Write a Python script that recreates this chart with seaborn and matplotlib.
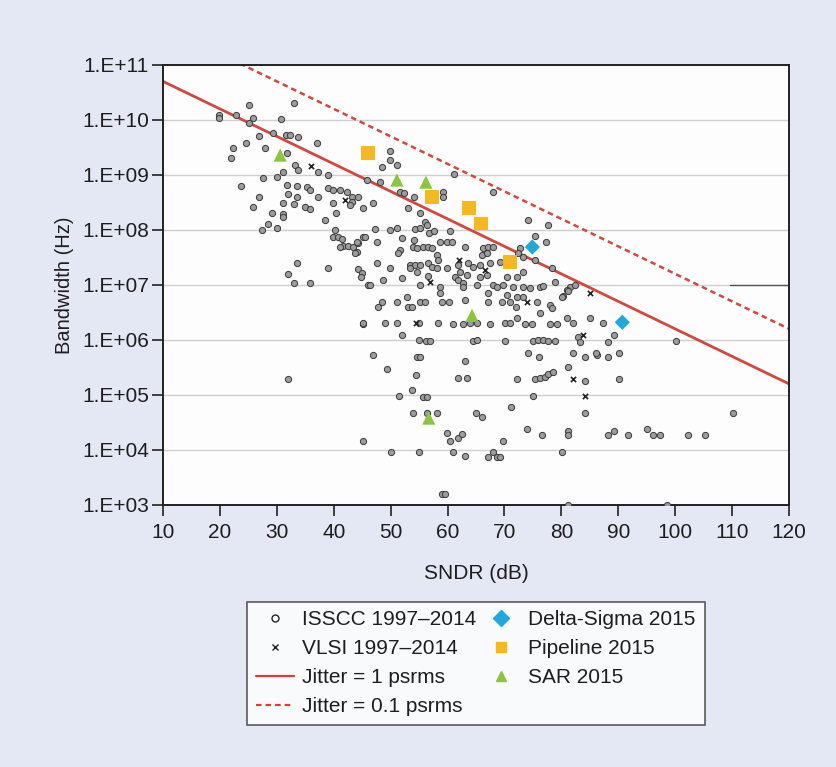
import numpy as np
import pandas as pd
import matplotlib
matplotlib.use("Agg")
import matplotlib.pyplot as plt
import seaborn as sns
from matplotlib.lines import Line2D

# ---------------- data ----------------
isscc_sndr = [
    19.8, 19.8, 22.8, 25.1, 25.8, 25.1, 33.0, 30.7, 26.9, 29.3, 31.6, 32.3, 33.7, 37.1, 24.6, 22.3,
    27.9, 21.9, 31.8, 33.2, 33.7, 31.1, 30.0, 27.6, 23.7, 37.2, 39.0, 31.8, 33.5, 35.3, 35.8, 33.5,
    32.0, 26.9, 37.2, 39.0, 39.8, 41.1, 42.3, 43.2, 44.3, 39.8, 25.8, 31.1, 33.0, 35.0, 35.8, 29.2,
    31.1, 31.1, 40.4, 38.5, 28.5, 27.4, 30.0, 40.2, 39.8, 40.7, 41.4, 41.6, 42.5, 43.4, 44.1, 44.3,
    45.1, 33.5, 39.0, 32.0, 33.0, 35.8, 44.3, 45.0, 44.8, 46.0, 45.1, 32.0, 45.1,
    49.9, 49.9, 51.1, 48.5, 45.9, 48.2, 51.6, 52.4, 54.1, 59.2, 59.2, 53.1, 55.2, 61.1, 43.2, 42.8,
    45.1, 46.9, 56.0, 56.4, 47.3, 49.9, 51.1, 54.3, 55.2, 56.7, 57.6, 60.4, 44.1, 45.5, 47.6, 41.1,
    43.7, 52.0, 54.1, 53.9, 54.6, 55.7, 56.6, 57.3, 51.6, 51.3, 58.7, 59.9, 60.8, 58.1, 58.3, 63.1,
    47.6, 49.9, 53.4, 54.3, 55.2, 53.4, 54.6, 56.6, 57.3, 58.1, 59.9, 61.8, 62.2, 61.3, 61.8, 62.7,
    46.4, 48.7, 52.0, 55.2, 56.6, 58.7, 58.7, 52.9,
    68.0, 74.1, 77.7, 75.4, 77.3, 72.7, 72.4, 73.3, 66.2, 67.1, 68.0, 66.0, 66.9, 63.6, 64.5, 65.7,
    67.5, 69.2, 73.3, 75.4, 78.4, 63.4, 65.7, 66.9, 70.5, 72.2, 68.0, 68.7, 69.8, 71.5, 73.3,
    74.5, 76.3, 76.8, 78.9, 81.5, 82.4, 81.0, 62.7, 65.2, 67.1, 80.3, 70.5, 72.2, 73.3,
    48.5, 47.8, 51.1, 53.1, 53.8, 55.2, 56.0, 59.0, 60.3, 63.1, 45.1, 49.0, 51.1, 55.0, 58.3, 61.0,
    62.7, 64.0, 65.2, 52.0, 55.0, 56.2, 56.9, 46.9, 54.6, 55.2, 63.1, 49.4, 54.5, 61.8, 63.4, 53.8,
    51.5, 55.7, 56.4, 53.9, 56.4, 58.1, 59.9, 60.4, 61.8, 62.5, 50.1, 55.0, 61.0, 63.1, 59.0, 59.6,
    65.0, 66.1, 67.1, 68.0, 68.7, 69.2, 69.8, 71.2, 74.0, 76.6, 75.0, 80.1, 81.2, 81.2, 64.5, 70.1,
    72.2, 75.4, 76.3, 77.1, 77.7, 78.5, 81.2, 74.1, 76.1, 75.0, 75.9, 76.8, 77.7, 78.9, 82.9, 83.3,
    82.0, 67.1, 69.6, 71.0, 72.0, 75.7, 78.0, 78.4, 80.1, 76.3, 81.0, 82.0, 85.0, 72.2, 67.5, 70.1,
    71.0, 73.6, 74.9, 78.0, 79.2, 65.2, 86.3, 84.2, 84.2, 84.2, 81.2, 87.3, 89.3, 88.2, 100.2,
    86.1, 88.2, 90.1, 90.1, 110.2, 88.2, 89.3, 91.7, 95.1, 96.1, 97.3, 102.2, 105.2, 81.2, 98.6,
]
isscc_log_bw = [
    10.09, 10.04, 10.09, 10.27, 10.04, 9.95, 10.31, 10.02, 9.71, 9.76, 9.73, 9.73, 9.69, 9.58, 9.58, 9.49,
    9.49, 9.31, 9.40, 9.18, 9.09, 9.05, 8.96, 8.95, 8.80, 9.05, 9.00, 8.82, 8.80, 8.78, 8.73, 8.60,
    8.65, 8.60, 8.60, 8.76, 8.73, 8.73, 8.69, 8.60, 8.60, 8.49, 8.42, 8.49, 8.47, 8.42, 8.38, 8.31,
    8.29, 8.24, 8.31, 8.18, 8.11, 8.00, 8.04, 8.00, 7.87, 7.87, 7.84, 7.71, 7.71, 7.69, 7.60, 7.76,
    7.87, 7.40, 7.31, 7.20, 7.04, 7.04, 7.29, 7.22, 7.15, 7.00, 6.29, 5.29, 4.16,
    9.44, 9.27, 9.18, 9.15, 8.91, 8.87, 8.69, 8.67, 8.60, 8.69, 8.60, 8.40, 8.31, 9.02, 8.51, 8.45,
    8.40, 8.49, 8.15, 8.09, 8.02, 8.00, 8.04, 8.02, 8.04, 7.95, 7.98, 7.98, 7.78, 7.87, 7.78, 7.69,
    7.58, 7.85, 7.82, 7.69, 7.67, 7.69, 7.69, 7.67, 7.64, 7.58, 7.78, 7.78, 7.78, 7.55, 7.45, 7.69,
    7.40, 7.31, 7.36, 7.36, 7.36, 7.31, 7.24, 7.40, 7.33, 7.31, 7.31, 7.36, 7.24, 7.15, 7.09, 7.04,
    7.00, 7.09, 7.13, 7.00, 7.16, 6.96, 6.85, 6.78,
    8.69, 8.18, 8.09, 7.89, 7.78, 7.67, 7.58, 7.51, 7.67, 7.69, 7.69, 7.55, 7.58, 7.40, 7.33, 7.36,
    7.40, 7.42, 7.24, 7.45, 7.31, 7.18, 7.15, 7.18, 7.15, 7.15, 7.00, 6.96, 7.00, 6.96, 6.96,
    6.95, 6.96, 6.98, 7.05, 6.96, 7.00, 6.91, 6.96, 7.00, 6.85, 6.80, 6.82, 6.78, 6.78,
    6.69, 6.60, 6.69, 6.60, 6.60, 6.69, 6.69, 6.69, 6.69, 6.73, 6.31, 6.31, 6.31, 6.31, 6.31, 6.29,
    6.29, 6.31, 6.31, 6.09, 6.00, 5.98, 5.98, 5.73, 5.69, 5.69, 5.62, 5.47, 5.36, 5.31, 5.31, 5.09,
    4.98, 4.96, 4.96, 4.67, 4.67, 4.67, 4.31, 4.16, 4.22, 4.29, 3.96, 3.96, 3.96, 3.89, 3.20, 3.20,
    4.67, 4.60, 3.87, 3.96, 3.87, 3.87, 4.16, 4.78, 4.38, 4.27, 4.98, 3.96, 4.35, 4.27, 5.98, 5.98,
    5.29, 5.29, 5.31, 5.33, 5.38, 5.42, 5.51, 5.76, 5.69, 5.98, 6.00, 6.00, 5.98, 5.98, 6.05, 5.96,
    5.76, 6.69, 6.69, 6.69, 6.60, 6.69, 6.64, 6.58, 6.78, 6.49, 6.40, 6.31, 6.40, 6.40, 6.29, 6.31,
    6.31, 6.29, 6.29, 6.29, 6.29, 6.00, 5.73, 5.69, 5.25, 4.67, 6.89, 6.31, 6.09, 5.96, 5.98,
    5.76, 5.69, 5.76, 5.29, 4.67, 4.27, 4.35, 4.27, 4.38, 4.27, 4.27, 4.27, 4.27, 3.00, 3.00,
]
vlsi_sndr = [74.0, 82.0, 84.2, 83.8, 54.5, 62.0, 66.5, 36.0, 42.0, 57.0, 85.0, 71.0]
vlsi_log_bw = [6.69, 5.29, 4.98, 6.09, 6.31, 7.45, 7.27, 9.17, 8.55, 7.05, 6.85, 7.40]

ds_sndr = [74.9, 90.7]
ds_bw = [4.9e7, 2.1e6]
pipe_sndr = [46.0, 57.3, 63.8, 65.9, 71.0]
pipe_bw = [2.5e9, 4.0e8, 2.5e8, 1.3e8, 2.6e7]
sar_sndr = [30.6, 51.1, 56.2, 64.3, 56.7]
sar_bw = [2.3e9, 8.1e8, 7.4e8, 2.8e6, 3.8e4]

jitter_values = [1e-12, 1e-13]          # 1 ps rms, 0.1 ps rms
sndr_range = [10, 120]

y_ticks = [1e3, 1e4, 1e5, 1e6, 1e7, 1e8, 1e9, 1e10, 1e11]
y_tick_labels = ["1.E+03", "1.E+04", "1.E+05", "1.E+06", "1.E+07", "1.E+08", "1.E+09", "1.E+10", "1.E+11"]
x_ticks = [10, 20, 30, 40, 50, 60, 70, 80, 90, 100, 110, 120]

# ---------------- figure ----------------
sns.set_style("white")
plt.rcParams['font.family'] = ['Liberation Sans', 'DejaVu Sans']

bg = "#e3e8f4"
txt = "#1e1e1e"
fig = plt.figure(figsize=(8.37, 7.67), dpi=100, facecolor=bg)
ax = fig.add_axes([0.1947, 0.3416, 0.748, 0.5737])
ax.set_facecolor("#fdfdfd")

ax.set_yscale("log")
ax.set_xlim(10, 120)
ax.set_ylim(1e3, 1e11)

for t in y_ticks[1:-1]:
    ax.axhline(t, color="#cfcfcf", lw=1.0, zorder=0)
ax.axhline(1e7, xmin=0.905, xmax=1.0, color="#555555", lw=1.0, zorder=0.5)

red = "#d2473f"
xx = np.linspace(sndr_range[0], sndr_range[1], 200)
jit_df = pd.DataFrame({
    "sndr": np.concatenate([xx, xx]),
    "bw": np.concatenate([1.0 / (2 * np.pi * jitter_values[0] * 10 ** (xx / 20)),
                          1.0 / (2 * np.pi * jitter_values[1] * 10 ** (xx / 20))]),
    "jit": ["1"] * len(xx) + ["0.1"] * len(xx),
})
sns.lineplot(data=jit_df[jit_df.jit == "1"], x="sndr", y="bw", color=red, lw=2.0, ax=ax, zorder=2)
sns.lineplot(data=jit_df[jit_df.jit == "0.1"], x="sndr", y="bw", color=red, lw=1.8, ax=ax,
             zorder=2, linestyle=(0, (2.2, 1.6)))

sns.scatterplot(x=isscc_sndr, y=10 ** np.array(isscc_log_bw), marker="o", s=20,
                color="#9c9c9c", edgecolor="#3a3a3a", linewidth=0.7, ax=ax, zorder=3)
sns.scatterplot(x=vlsi_sndr, y=10 ** np.array(vlsi_log_bw), marker="x", s=14,
                color="#222222", linewidth=1.2, ax=ax, zorder=3)

sns.scatterplot(x=pipe_sndr, y=pipe_bw, marker="s", s=95, color="#f5b823", edgecolor="none", ax=ax, zorder=4)
sns.scatterplot(x=sar_sndr, y=sar_bw, marker="^", s=90, color="#8cc641", edgecolor="none", ax=ax, zorder=4)
sns.scatterplot(x=ds_sndr, y=ds_bw, marker="D", s=60, color="#1fa8d8", edgecolor="none", ax=ax, zorder=4)

ax.set_yticks(y_ticks)
ax.set_yticklabels(y_tick_labels)
ax.yaxis.set_minor_locator(matplotlib.ticker.NullLocator())
ax.set_xticks(x_ticks)
ax.set_xticklabels([str(v) for v in x_ticks])
ax.tick_params(axis="both", direction="out", length=8, width=1.2, color="#222222",
               labelsize=15, labelcolor=txt, bottom=True, left=True)
ax.tick_params(axis="x", pad=5)
ax.tick_params(axis="y", pad=2)
for sp in ax.spines.values():
    sp.set_color("#222222")
    sp.set_linewidth(1.4)

ax.set_xlabel("SNDR (dB)", fontsize=15, color=txt, labelpad=16)
ax.set_ylabel("Bandwidth (Hz)", fontsize=14.5, color=txt, labelpad=6)

handles = [
    Line2D([], [], marker="o", ls="none", markersize=5, markerfacecolor="white",
           markeredgecolor="#222222", markeredgewidth=1.0),
    Line2D([], [], marker="x", ls="none", markersize=5, color="#222222", markeredgewidth=1.0),
    Line2D([], [], color="#e03a3a", lw=1.6),
    Line2D([], [], color="#e03a3a", lw=1.6, ls=(0, (2.5, 1.8))),
    Line2D([], [], marker="D", ls="none", markersize=8, color="#1fa8d8"),
    Line2D([], [], marker="s", ls="none", markersize=7, color="#f5b823"),
    Line2D([], [], marker="^", ls="none", markersize=7, color="#8cc641"),
]
labels = ["ISSCC 1997\u20132014", "VLSI 1997\u20132014", "Jitter = 1 psrms", "Jitter = 0.1 psrms",
          "Delta-Sigma 2015", "Pipeline 2015", "SAR 2015"]
leg = fig.legend(handles, labels, ncol=2, loc="center", bbox_to_anchor=(0.5687, 0.135),
                 fontsize=15, frameon=True, fancybox=False, edgecolor="#333333",
                 handlelength=1.8, handletextpad=0.4, columnspacing=0.3, labelspacing=0.48,
                 borderpad=0.42, borderaxespad=0.0, labelcolor=txt)
leg.get_frame().set_linewidth(1.2)
leg.get_frame().set_facecolor("white")

fig.savefig("out.png", dpi=100, facecolor=bg)
